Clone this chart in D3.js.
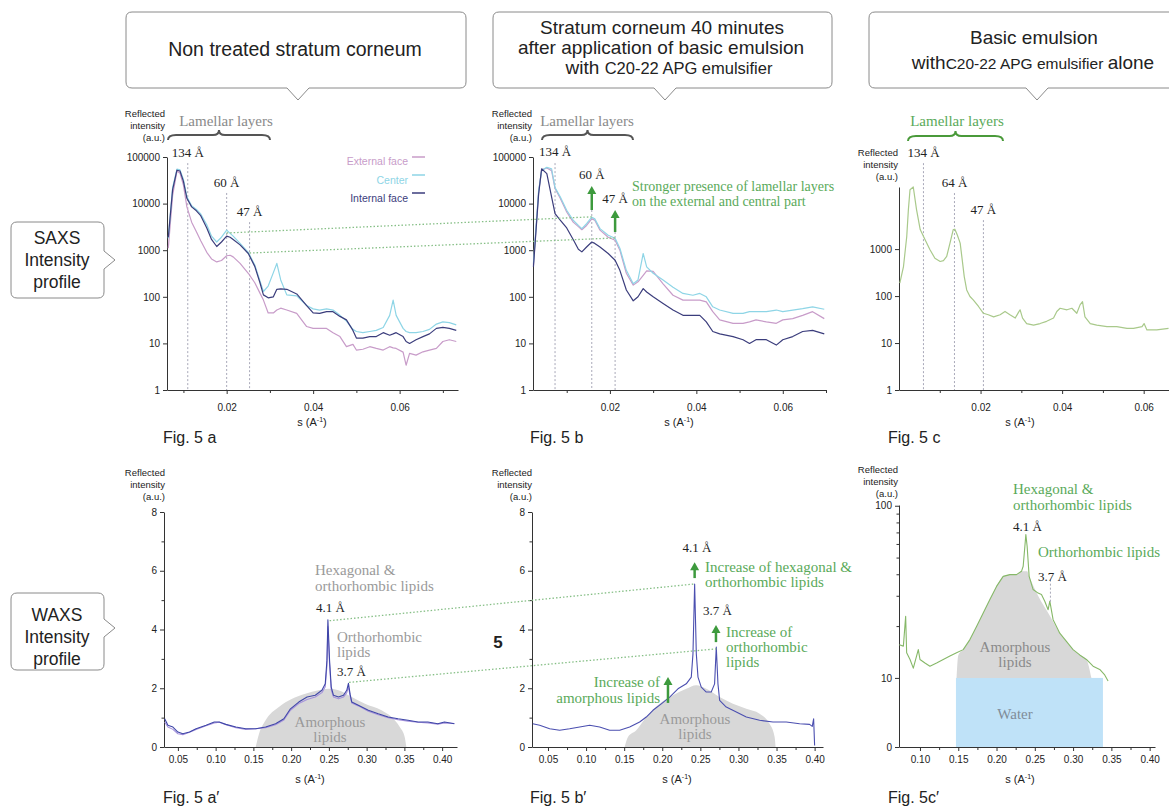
<!DOCTYPE html>
<html>
<head>
<meta charset="utf-8">
<script src="https://cdn.jsdelivr.net/npm/d3@7/dist/d3.min.js"></script>
<style>
  body { margin:0; background:#fff; }
  svg { display:block; font-family:"Liberation Sans", Arial, sans-serif; }
  .axis path, .axis line { stroke:#333; stroke-width:1; }
  .axis text { font-family:"Liberation Sans", Arial, sans-serif; font-size:10px; fill:#222; }
  .serif { font-family:"Liberation Serif", "Times New Roman", serif; }
</style>
</head>
<body>
<svg id="fig" width="1169" height="807"></svg>
<script>
// ---------- SAXS data (s in A^-1, reflected intensity a.u.) ----------
// Fig 5a : non treated
const saxsA_s = [0.0065,0.0075,0.0085,0.0092,0.0100,0.0108,0.0119,0.0130,0.0140,0.0154,
  0.0165,0.0177,0.0188,0.0200,0.0208,0.0215,0.0231,0.0250,0.0265,0.0277,
  0.0285,0.0296,0.0308,0.0316,0.0325,0.0339,0.0362,0.0385,0.0400,0.0415,
  0.0431,0.0446,0.0462,0.0477,0.0492,0.0500,0.0515,0.0531,0.0546,0.0562,
  0.0577,0.0585,0.0592,0.0608,0.0615,0.0623,0.0638,0.0654,0.0669,0.0685,
  0.0700,0.0715,0.0731];
const saxsA_internal = [1900,20000,52000,50000,30000,13000,8500,7000,5500,3000,
  1700,1200,1500,2000,1900,1700,1300,850,450,200,
  110,95,100,145,148,145,115,65,45,44,
  48,48,38,32,19,13,13,14,14,17,
  15,16,17,14,11,10,12,14,16,21,
  22,21,19];
const saxsA_center = [1800,22000,55000,53000,33000,14000,9000,7500,6000,3500,
  2000,1500,1900,2700,2300,2000,1400,900,480,220,
  130,170,330,520,230,110,105,65,55,52,
  55,52,40,30,20,18,17,18,19,22,
  40,85,40,21,18,17,17,18,20,26,
  29,28,25];
const saxsA_external = [1100,15000,50000,45000,25000,8500,4000,2500,1600,900,
  650,560,600,760,780,720,520,320,200,120,
  85,45,45,52,57,52,44,23,21,21,
  21,17,14,8.5,9.5,7.2,7.5,8.5,7.8,7.2,
  8.5,8.0,7.8,6.5,3.4,6.1,5.6,6.6,7.2,7.8,
  11,12,11];
const saxsA_peakLabels = ["134 Å", "60 Å", "47 Å"];
const saxsA_peakS = [0.0110, 0.0200, 0.0253];
const saxsA_peakTop = [74000, 16900, 4000];

// Fig 5b : 40 minutes after application
const saxsB_s = [0.0023,0.0035,0.0042,0.0054,0.0065,0.0073,0.0085,0.0100,0.0115,0.0127,
  0.0135,0.0146,0.0158,0.0165,0.0177,0.0196,0.0212,0.0223,0.0238,0.0254,
  0.0265,0.0277,0.0285,0.0300,0.0323,0.0346,0.0369,0.0392,0.0408,0.0423,
  0.0438,0.0454,0.0485,0.0508,0.0523,0.0538,0.0562,0.0585,0.0600,0.0623,
  0.0646,0.0669,0.0696];
const saxsB_internal = [440,16000,56000,44000,14000,6100,4400,3000,1700,1050,
  920,1170,1500,1400,1170,850,610,370,140,82,
  100,150,127,100,72,52,40,40,40,29,
  18,16,14,12,10,12,12,9.2,12,14,
  18,19,16];
const saxsB_center = [520,19000,51000,60000,56000,22000,14000,7200,4400,3400,
  2900,3700,5100,4700,2900,2100,1800,1100,370,190,
  230,850,440,320,230,160,118,108,118,100,
  61,52,44,44,48,48,48,52,48,52,
  56,61,54];
const saxsB_external = [480,17500,53000,58000,51000,21000,13000,6600,4000,3200,
  2750,3400,4700,4400,2700,1900,1640,1000,320,178,
  210,290,360,350,190,108,85,85,85,78,
  48,32,27,27,29,32,29,27,32,34,
  40,48,34];
const saxsB_peakLabels = ["134 Å", "60 Å", "47 Å"];
const saxsB_peakS = [0.0073, 0.0158, 0.0212];
const saxsB_lineTop = [74000, 7290, 2460];
const saxsB_labelRef = [74000, 23900, 7290];
const saxsB_arrowS = [0.0158, 0.0212];
const saxsB_arrowFrom = [7290, 2460];
const saxsB_arrowTo = [23900, 7290];

// Fig 5c : basic emulsion alone
const saxsC_s = [0.0002,0.0011,0.0019,0.0023,0.0027,0.0035,0.0043,0.0052,0.0064,0.0076,
  0.0088,0.0101,0.0109,0.0117,0.0125,0.0133,0.0137,0.0143,0.0150,0.0154,
  0.0160,0.0166,0.0174,0.0182,0.0195,0.0207,0.0219,0.0232,0.0248,0.0260,
  0.0272,0.0285,0.0293,0.0297,0.0303,0.0313,0.0330,0.0346,0.0362,0.0379,
  0.0387,0.0395,0.0412,0.0424,0.0436,0.0444,0.0450,0.0456,0.0469,0.0485,
  0.0510,0.0534,0.0559,0.0575,0.0596,0.0601,0.0608,0.0632,0.0661];
const saxsC_basic = [188,425,1860,6900,18400,21000,6900,2600,1580,970,
  640,545,570,700,1340,2600,2650,2000,1340,700,
  260,135,98,83,60,43,40,36,40,47,
  40,34,45,51,34,26,24,26,29,34,
  47,55,51,55,43,65,76,36,26,24,
  22.4,22.4,20.6,20.6,22.4,26,19,19,20.6];
const saxsC_peakLabels = ["134 Å", "64 Å", "47 Å"];
const saxsC_peakS = [0.0060, 0.0136, 0.0207];
const saxsC_peakTop = [67600, 15600, 4140];

// dotted links 5a -> 5b : [s, I] in 5a and [s, I] in 5b
const saxsLinkFrom = [[0.0200, 2340], [0.0253, 870]];
const saxsLinkTo = [[0.0158, 5200], [0.0212, 1830]];

// ---------- WAXS data ----------
const waxsA_s = [0.0325,0.0368,0.0434,0.0500,0.0566,0.0654,0.0741,0.0873,0.0982,0.1048,
  0.1136,0.1268,0.1399,0.1531,0.1662,0.1794,0.1904,0.1991,0.2101,0.2211,
  0.2320,0.2408,0.2452,0.2474,0.2487,0.2509,0.2531,0.2561,0.2627,0.2693,
  0.2737,0.2759,0.2781,0.2803,0.2890,0.3022,0.3154,0.3285,0.3417,0.3548,
  0.3680,0.3811,0.3943,0.4031,0.4162];
const waxsA_internal = [0.96,0.74,0.68,0.51,0.45,0.51,0.62,0.74,0.85,0.85,
  0.77,0.68,0.62,0.62,0.68,0.79,0.96,1.30,1.53,1.70,
  1.76,1.93,2.15,2.94,4.33,2.94,2.04,1.76,1.70,1.76,
  1.93,2.17,1.80,1.53,1.42,1.25,1.13,1.02,0.96,0.91,
  0.85,0.85,0.79,0.85,0.79];
const waxsA_external = [0.85,0.68,0.60,0.45,0.42,0.50,0.60,0.72,0.82,0.84,
  0.76,0.66,0.60,0.62,0.66,0.76,0.92,1.25,1.48,1.62,
  1.70,1.85,2.05,2.75,4.10,2.80,1.95,1.70,1.64,1.70,
  1.85,2.05,1.75,1.50,1.40,1.22,1.10,1.00,0.93,0.88,
  0.84,0.82,0.78,0.82,0.80];
const waxsA_humpS = [0.1531,0.1575,0.1662,0.1838,0.2013,0.2189,0.2364,0.2496,0.2627,0.2803,0.2978,0.3197,0.3329,0.3439,0.3504,0.3526];
const waxsA_hump = [0,0.45,0.91,1.36,1.64,1.81,1.93,1.98,1.93,1.70,1.47,1.25,1.02,0.68,0.34,0];

const waxsB_s = [0.0300,0.0391,0.0522,0.0653,0.0784,0.0916,0.1047,0.1178,0.1309,0.1441,
  0.1572,0.1703,0.1790,0.1878,0.1987,0.2097,0.2206,0.2315,0.2381,0.2403,
  0.2425,0.2447,0.2469,0.2512,0.2578,0.2643,0.2687,0.2709,0.2731,0.2753,
  0.2840,0.2972,0.3103,0.3278,0.3453,0.3628,0.3803,0.3934,0.3969,0.3987,
  0.4000];
const waxsB_treated = [0.79,0.74,0.62,0.57,0.62,0.68,0.74,0.68,0.57,0.57,
  0.68,0.85,1.02,1.25,1.47,1.70,1.98,2.15,2.38,3.17,
  5.55,3.17,2.38,2.04,1.87,1.87,2.15,3.40,2.15,1.59,
  1.36,1.19,1.02,0.91,0.85,0.85,0.79,0.77,0.70,0.96,
  0.05];
const waxsB_humpS = [0.1506,0.1550,0.1659,0.1790,0.1965,0.2140,0.2315,0.2447,0.2578,0.2753,0.2928,0.3103,0.3278,0.3409,0.3475,0.3488];
const waxsB_hump = [0,0.34,0.57,1.02,1.47,1.76,1.98,2.10,1.98,1.70,1.47,1.30,1.13,0.79,0.34,0];
const waxsB_arrowS = [0.2425, 0.2705, 0.2075];
const waxsB_arrowFrom = [5.75, 3.57, 1.50];
const waxsB_arrowTo = [6.29, 4.15, 2.38];

const waxsC_s = [0.0730,0.0783,0.0813,0.0826,0.0870,0.0913,0.0978,0.1000,0.1065,0.1130,
  0.1217,0.1304,0.1391,0.1478,0.1565,0.1652,0.1739,0.1826,0.1913,0.2000,
  0.2087,0.2174,0.2261,0.2326,0.2348,0.2370,0.2383,0.2400,0.2426,0.2478,
  0.2543,0.2587,0.2630,0.2674,0.2696,0.2739,0.2826,0.2913,0.3000,0.3087,
  0.3174,0.3261,0.3348,0.3413,0.3457];
const waxsC_basic = [15.6,15.3,22.8,14.0,12.8,11.4,14.6,12.8,12.2,11.7,
  12.2,12.8,13.4,14.0,14.6,16.7,19.9,23.8,28.5,34.0,
  38.9,39.8,39.8,41.6,44.5,58.0,68.0,58.0,38.9,32.6,
  31.1,30.5,27.9,24.9,27.9,21.8,18.2,16.3,14.6,13.6,
  12.8,11.7,11.2,10.4,9.6];
const waxsC_humpS = [0.1478,0.1500,0.1565,0.1652,0.1739,0.1826,0.1913,0.2000,0.2087,0.2174,0.2261,0.2326,0.2400,0.2426,0.2543,0.2696,0.2826,0.2913,0.3000,0.3087,0.3174,0.3239];
const waxsC_hump = [10,13.5,14.6,16.7,19.9,23.8,28.5,34.0,38.9,39.8,39.8,41.6,41.6,38.9,30.0,23.0,18.2,16.3,14.6,13.6,12.8,10];
const waxsC_water = [0.147, 0.339];
const waxsC_dot = [0.2704, 27.7, 37.2];

const waxsLinkFrom = [[0.2510, 4.3], [0.2768, 2.2]];
const waxsLinkTo = [[0.2425, 5.55], [0.2709, 3.34]];

// ---------- tick values ----------
const saxsYTicks = [1, 10, 100, 1000, 10000, 100000];
const saxsCYTicks = [1, 10, 100, 1000];
const saxsXTicks = [0.02, 0.04, 0.06];
const saxsXMinor = [0.01, 0.03, 0.05, 0.07];
const waxsXTicks = [0.05, 0.10, 0.15, 0.20, 0.25, 0.30, 0.35, 0.40];
const waxsXMinor = [0.075, 0.125, 0.175, 0.225, 0.275, 0.325, 0.375];
const waxsYTicks = [0, 2, 4, 6, 8];
const waxsYMinor = [1, 3, 5, 7];
const waxsCXTicks = [0.10, 0.15, 0.20, 0.25, 0.30, 0.35, 0.40];
const waxsCXMinor = [0.125, 0.175, 0.225, 0.275, 0.325, 0.375];
const waxsCYTicks = [3.97, 10, 100];
const waxsCYMinor = [20, 30, 40, 50, 60, 70, 80, 90];

// ---------- colours ----------
const cExt = "#c89cc9", cCen = "#8ed5e6", cInt = "#3b3d7c";
const cGreenLine = "#a9c98b", cGreenW = "#86b868";
const cNavy = "#3f46a8", cLav = "#a693dc";
const cGreenTxt = "#5aaa5a", cArrow = "#3d9a3d";

const svg = d3.select("#fig");

// scales
const xSa = d3.scaleLinear().domain([0.0062, 0.0735]).range([167, 458]);
const ySa = d3.scaleLog().domain([1, 100000]).range([390, 157]);
const xSb = d3.scaleLinear().domain([0.0022, 0.0700]).range([533, 826]);
const ySb = ySa.copy();
const xSc = d3.scaleLinear().domain([0, 0.0667]).range([899, 1171]);
const ySc = d3.scaleLog().domain([1, 21000]).range([390, 187]);
const xWa = d3.scaleLinear().domain([0.0316, 0.4197]).range([164, 457]);
const yWa = d3.scaleLinear().domain([0, 8]).range([747, 512]);
const xWb = d3.scaleLinear().domain([0.029, 0.411]).range([532, 823]);
const yWb = yWa.copy();
const xWc = d3.scaleLinear().domain([0.0726, 0.407]).range([899, 1155]);
const yWc = d3.scaleLog().domain([3.97, 101]).range([747, 505]);

// ---------- helpers ----------
function txt(x, y, s, o) {
  o = o || {};
  const t = svg.append("text").attr("x", x).attr("y", y)
    .attr("text-anchor", o.anchor || "start")
    .attr("font-size", o.size || 12)
    .attr("fill", o.fill || "#222")
    .text(s);
  if (o.serif) t.attr("class", "serif");
  if (o.weight) t.attr("font-weight", o.weight);
  return t;
}

function axes(x, y, o) {
  const bottom = y.range()[0], left = x.range()[0];
  if (o.xMinor) svg.append("g").attr("class", "axis").attr("transform", `translate(0,${bottom})`)
    .call(d3.axisBottom(x).tickValues(o.xMinor).tickSize(3).tickFormat(""))
    .call(g => g.select(".domain").remove());
  svg.append("g").attr("class", "axis").attr("transform", `translate(0,${bottom})`)
    .call(d3.axisBottom(x).tickValues(o.xMajor).tickSize(4).tickSizeOuter(0)
      .tickPadding(o.xPad).tickFormat(d3.format(".2f")));
  if (o.yMinor) svg.append("g").attr("class", "axis").attr("transform", `translate(${left},0)`)
    .call(d3.axisLeft(y).tickValues(o.yMinor).tickSize(2.5).tickFormat(""))
    .call(g => g.select(".domain").remove());
  svg.append("g").attr("class", "axis").attr("transform", `translate(${left},0)`)
    .call(d3.axisLeft(y).tickValues(o.yMajor).tickSize(4).tickSizeOuter(0)
      .tickPadding(3).tickFormat(o.yFmt));
}

function curve(x, y, s, v, color, w) {
  svg.append("path").datum(d3.zip(s, v))
    .attr("fill", "none").attr("stroke", color).attr("stroke-width", w || 1.2)
    .attr("stroke-linejoin", "round")
    .attr("d", d3.line().x(d => x(d[0])).y(d => y(d[1])));
}

function hump(x, y, s, v, base, color) {
  svg.append("path").datum(d3.zip(s, v))
    .attr("fill", color)
    .attr("d", d3.area().curve(d3.curveMonotoneX).x(d => x(d[0])).y0(y(base)).y1(d => y(d[1])));
}

function vdot(x, y, s, top, bottom) {
  svg.append("line").attr("x1", x(s)).attr("x2", x(s))
    .attr("y1", y(top)).attr("y2", bottom === undefined ? y.range()[0] : y(bottom))
    .attr("stroke", "#a8a8b8").attr("stroke-width", 1).attr("stroke-dasharray", "2,2");
}

function arrow(x, y, s, from, to) {
  const px = x(s), y1 = y(from), y2 = y(to);
  svg.append("line").attr("x1", px).attr("x2", px).attr("y1", y1).attr("y2", y2 + 6)
    .attr("stroke", cArrow).attr("stroke-width", 2.5);
  svg.append("path").attr("d", `M${px - 4.5},${y2 + 8} L${px},${y2} L${px + 4.5},${y2 + 8} Z`)
    .attr("fill", cArrow);
}

function brace(x1, x2, y, h, color) {
  const m = (x1 + x2) / 2;
  svg.append("path")
    .attr("d", `M${x1},${y + h} Q${x1},${y} ${x1 + 8},${y} L${m - 6},${y} Q${m},${y} ${m},${y - h}` +
      ` Q${m},${y} ${m + 6},${y} L${x2 - 8},${y} Q${x2},${y} ${x2},${y + h}`)
    .attr("fill", "none").attr("stroke", color).attr("stroke-width", 2);
}

function link(xa, ya, xb, yb, from, to) {
  svg.append("line")
    .attr("x1", xa(from[0])).attr("y1", ya(from[1]))
    .attr("x2", xb(to[0])).attr("y2", yb(to[1]))
    .attr("stroke", "#86bf86").attr("stroke-width", 1.3).attr("stroke-dasharray", "1.5,2");
}

function yTitle(x, y) {
  ["Reflected", "intensity", "(a.u.)"].forEach((t, i) =>
    txt(x, y + i * 12, t, { anchor: "end", size: 9.5 }));
}

function xTitle(cx, y) {
  const t = svg.append("text").attr("x", cx).attr("y", y).attr("text-anchor", "middle")
    .attr("font-size", 11).attr("fill", "#222");
  t.append("tspan").text("s (A");
  t.append("tspan").attr("font-size", 7).attr("dy", -4).text("-1");
  t.append("tspan").attr("dy", 4).text(")");
}

function calloutDown(x, y, w, h, px) {
  const r = 6, pw = 11, ph = 12;
  svg.append("path").attr("d",
    `M${x + r},${y} H${x + w - r} Q${x + w},${y} ${x + w},${y + r} V${y + h - r} Q${x + w},${y + h} ${x + w - r},${y + h}` +
    ` H${px + pw} L${px},${y + h + ph} L${px - pw},${y + h} H${x + r} Q${x},${y + h} ${x},${y + h - r} V${y + r} Q${x},${y} ${x + r},${y} Z`)
    .attr("fill", "#fff").attr("stroke", "#8a8a8a").attr("stroke-width", 1);
}

function calloutRight(x, y, w, h, py) {
  const r = 6, pw = 9, ph = 11;
  svg.append("path").attr("d",
    `M${x + r},${y} H${x + w - r} Q${x + w},${y} ${x + w},${y + r} V${py - pw} L${x + w + ph},${py} L${x + w},${py + pw}` +
    ` V${y + h - r} Q${x + w},${y + h} ${x + w - r},${y + h} H${x + r} Q${x},${y + h} ${x},${y + h - r} V${y + r} Q${x},${y} ${x + r},${y} Z`)
    .attr("fill", "#fff").attr("stroke", "#8a8a8a").attr("stroke-width", 1);
}

// ---------- callouts ----------
calloutDown(126, 12, 340, 76, 298);
txt(295, 56, "Non treated stratum corneum", { anchor: "middle", size: 19.5 });

calloutDown(493, 12, 339, 76, 665);
txt(662, 34, "Stratum corneum 40 minutes", { anchor: "middle", size: 19 });
txt(661, 54, "after application of basic emulsion", { anchor: "middle", size: 19 });
const l3 = svg.append("text").attr("x", 669).attr("y", 74).attr("text-anchor", "middle").attr("fill", "#222");
l3.append("tspan").attr("font-size", 19).text("with ");
l3.append("tspan").attr("font-size", 16.5).text("C20-22 APG emulsifier");

calloutDown(869, 12, 330, 76, 1037);
txt(1034, 44, "Basic emulsion", { anchor: "middle", size: 19 });
const l4 = svg.append("text").attr("x", 1033).attr("y", 69).attr("text-anchor", "middle").attr("fill", "#222");
l4.append("tspan").attr("font-size", 19).text("with");
l4.append("tspan").attr("font-size", 15.5).text("C20-22 APG emulsifier ");
l4.append("tspan").attr("font-size", 19).text("alone");

calloutRight(11, 222, 93, 76, 260);
["SAXS", "Intensity", "profile"].forEach((t, i) => txt(57, 244 + i * 22, t, { anchor: "middle", size: 17.5 }));
calloutRight(11, 593, 93, 77, 628);
["WAXS", "Intensity", "profile"].forEach((t, i) => txt(57, 621 + i * 22, t, { anchor: "middle", size: 17.5 }));

// ---------- SAXS panels ----------
const logFmt = d3.format("d");
axes(xSa, ySa, { xMajor: saxsXTicks, xMinor: saxsXMinor, xPad: 10, yMajor: saxsYTicks, yFmt: logFmt });
axes(xSb, ySb, { xMajor: saxsXTicks, xMinor: saxsXMinor, xPad: 10, yMajor: saxsYTicks, yFmt: logFmt });
axes(xSc, ySc, { xMajor: saxsXTicks, xMinor: [0.01, 0.03, 0.05], xPad: 10, yMajor: saxsCYTicks, yFmt: logFmt });

// peak markers
saxsA_peakS.forEach((s, i) => {
  vdot(xSa, ySa, s, saxsA_peakTop[i]);
  txt(xSa(s), ySa(saxsA_peakTop[i]) - 6, saxsA_peakLabels[i], { anchor: "middle", size: 13, serif: true });
});
saxsB_peakS.forEach((s, i) => {
  vdot(xSb, ySb, s, saxsB_lineTop[i]);
  txt(xSb(s), ySb(saxsB_labelRef[i]) - 7, saxsB_peakLabels[i], { anchor: "middle", size: 13, serif: true });
});
saxsB_arrowS.forEach((s, i) => arrow(xSb, ySb, s, saxsB_arrowFrom[i], saxsB_arrowTo[i]));
saxsC_peakS.forEach((s, i) => {
  vdot(xSc, ySc, s, saxsC_peakTop[i]);
  txt(xSc(s), ySc(saxsC_peakTop[i]) - 6, saxsC_peakLabels[i], { anchor: "middle", size: 13, serif: true });
});

// curves
curve(xSa, ySa, saxsA_s, saxsA_external, cExt);
curve(xSa, ySa, saxsA_s, saxsA_center, cCen);
curve(xSa, ySa, saxsA_s, saxsA_internal, cInt);
curve(xSb, ySb, saxsB_s, saxsB_external, cExt);
curve(xSb, ySb, saxsB_s, saxsB_center, cCen);
curve(xSb, ySb, saxsB_s, saxsB_internal, cInt);
curve(xSc, ySc, saxsC_s, saxsC_basic, cGreenLine);

saxsLinkFrom.forEach((f, i) => link(xSa, ySa, xSb, ySb, f, saxsLinkTo[i]));

// legend 5a
[["External face", cExt], ["Center", cCen], ["Internal face", cInt]].forEach((d, i) => {
  txt(408, 165 + i * 18.5, d[0], { anchor: "end", size: 10.5, fill: d[1] });
  svg.append("line").attr("x1", 412).attr("x2", 425).attr("y1", 157 + i * 18).attr("y2", 157 + i * 18)
    .attr("stroke", d[1]).attr("stroke-width", 1.5);
});

// lamellar braces
txt(226, 126, "Lamellar layers", { anchor: "middle", size: 15, fill: "#8a8a8a", serif: true });
brace(168, 270, 135, 5, "#555");
txt(587, 126, "Lamellar layers", { anchor: "middle", size: 15, fill: "#8a8a8a", serif: true });
brace(542, 633, 135, 5, "#555");
txt(957, 126, "Lamellar layers", { anchor: "middle", size: 15, fill: cGreenTxt, serif: true });
brace(908, 1003, 136, 5, "#4a9a3a");

txt(632, 191, "Stronger presence of lamellar layers", { size: 14, fill: cGreenTxt, serif: true });
txt(632, 206, "on the external and central part", { size: 14, fill: cGreenTxt, serif: true });

yTitle(165, 117); yTitle(532, 117); yTitle(898, 156);
xTitle(312, 426); xTitle(679, 426); xTitle(1020, 426);
txt(163, 443, "Fig. 5 a", { size: 16 });
txt(530, 443, "Fig. 5 b", { size: 16 });
txt(888, 443, "Fig. 5 c", { size: 16 });

// ---------- WAXS panels ----------
const linFmt = d3.format("d");
axes(xWa, yWa, { xMajor: waxsXTicks, xMinor: waxsXMinor, xPad: 5, yMajor: waxsYTicks, yMinor: waxsYMinor, yFmt: linFmt });
axes(xWb, yWb, { xMajor: waxsXTicks, xMinor: waxsXMinor, xPad: 5, yMajor: waxsYTicks, yMinor: waxsYMinor, yFmt: linFmt });

// 5a'
hump(xWa, yWa, waxsA_humpS, waxsA_hump, 0, "#d8d8d8");
txt(330, 727, "Amorphous", { anchor: "middle", size: 15, fill: "#9a9a9a", serif: true });
txt(330, 742, "lipids", { anchor: "middle", size: 15, fill: "#9a9a9a", serif: true });
curve(xWa, yWa, waxsA_s, waxsA_external, cLav, 1.1);
curve(xWa, yWa, waxsA_s, waxsA_internal, cNavy, 1.1);
txt(315, 575, "Hexagonal  &", { size: 15, fill: "#9a9a9a", serif: true });
txt(315, 591, "orthorhombic lipids", { size: 15, fill: "#9a9a9a", serif: true });
txt(316, 612, "4.1 Å", { size: 13, serif: true });
txt(337, 642, "Orthorhombic", { size: 15, fill: "#9a9a9a", serif: true });
txt(337, 657, "lipids", { size: 15, fill: "#9a9a9a", serif: true });
txt(337, 676, "3.7 Å", { size: 13, serif: true });

// 5b'
hump(xWb, yWb, waxsB_humpS, waxsB_hump, 0, "#d8d8d8");
txt(695, 724, "Amorphous", { anchor: "middle", size: 15, fill: "#9a9a9a", serif: true });
txt(695, 739, "lipids", { anchor: "middle", size: 15, fill: "#9a9a9a", serif: true });
curve(xWb, yWb, waxsB_s, waxsB_treated, "#4b4fb0", 1.1);
waxsB_arrowS.forEach((s, i) => arrow(xWb, yWb, s, waxsB_arrowFrom[i], waxsB_arrowTo[i]));
txt(697, 552, "4.1 Å", { anchor: "middle", size: 13, serif: true });
txt(705, 572, "Increase of hexagonal &", { size: 15, fill: cGreenTxt, serif: true });
txt(705, 587, "orthorhombic lipids", { size: 15, fill: cGreenTxt, serif: true });
txt(703, 615, "3.7 Å", { size: 13, serif: true });
txt(726, 637, "Increase of", { size: 15, fill: cGreenTxt, serif: true });
txt(726, 652, "orthorhombic", { size: 15, fill: cGreenTxt, serif: true });
txt(726, 667, "lipids", { size: 15, fill: cGreenTxt, serif: true });
txt(660, 687, "Increase of", { anchor: "end", size: 15, fill: cGreenTxt, serif: true });
txt(660, 703, "amorphous lipids", { anchor: "end", size: 15, fill: cGreenTxt, serif: true });
txt(498, 648, "5", { anchor: "middle", size: 17, weight: "bold" });

waxsLinkFrom.forEach((f, i) => link(xWa, yWa, xWb, yWb, f, waxsLinkTo[i]));

// 5c'
svg.append("rect")
  .attr("x", xWc(waxsC_water[0])).attr("width", xWc(waxsC_water[1]) - xWc(waxsC_water[0]))
  .attr("y", yWc(10)).attr("height", yWc(3.97) - yWc(10))
  .attr("fill", "#bfe2f8");
hump(xWc, yWc, waxsC_humpS, waxsC_hump, 10, "#d8d8d8");
axes(xWc, yWc, { xMajor: waxsCXTicks, xMinor: waxsCXMinor, xPad: 5, yMajor: waxsCYTicks, yMinor: waxsCYMinor,
  yFmt: d => d < 5 ? "0" : d3.format("d")(d) });
curve(xWc, yWc, waxsC_s, waxsC_basic, cGreenW, 1.1);
vdot(xWc, yWc, waxsC_dot[0], waxsC_dot[2], waxsC_dot[1]);
txt(1015, 652, "Amorphous", { anchor: "middle", size: 15, fill: "#8a8a8a", serif: true });
txt(1015, 667, "lipids", { anchor: "middle", size: 15, fill: "#8a8a8a", serif: true });
txt(1015, 719, "Water", { anchor: "middle", size: 15, fill: "#7f8c99", serif: true });
txt(1013, 494, "Hexagonal  &", { size: 15, fill: cGreenTxt, serif: true });
txt(1013, 510, "orthorhombic lipids", { size: 15, fill: cGreenTxt, serif: true });
txt(1013, 531, "4.1 Å", { size: 13, serif: true });
txt(1038, 557, "Orthorhombic lipids", { size: 15, fill: cGreenTxt, serif: true });
txt(1038, 581, "3.7 Å", { size: 13, serif: true });

yTitle(165, 476); yTitle(532, 476); yTitle(898, 473);
xTitle(310, 783); xTitle(677, 783); xTitle(1020, 783);
txt(163, 803, "Fig. 5 a′", { size: 16 });
txt(530, 803, "Fig. 5 b′", { size: 16 });
txt(888, 803, "Fig. 5c′", { size: 16 });
</script>
</body>
</html>
